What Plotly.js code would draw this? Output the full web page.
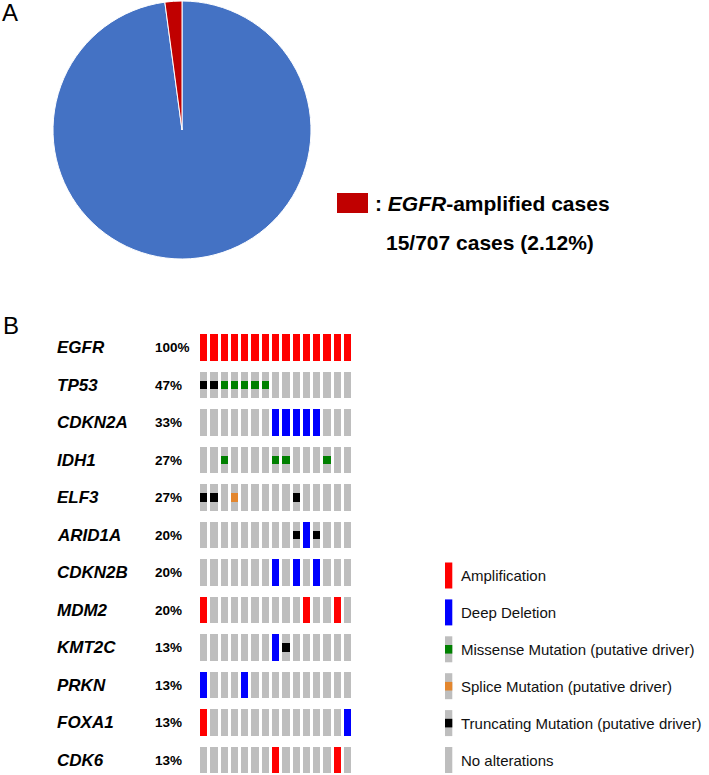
<!DOCTYPE html>
<html>
<head>
<meta charset="utf-8">
<script src="https://cdn.plot.ly/plotly-3.0.1.min.js"></script>
<style>html,body{margin:0;padding:0;background:#fff;}#chart{width:709px;height:775px;}</style>
</head>
<body>
<div id="chart"></div>
<script>
// ---------- data ----------
const pieLabels = ['Other', 'EGFR-amplified'];
const pieValues = [692, 15];            // 15 / 707 cases
const pieColors = ['#4472C4', '#C00000'];

const genes = ['EGFR','TP53','CDKN2A','IDH1','ELF3','ARID1A','CDKN2B','MDM2','KMT2C','PRKN','FOXA1','CDK6'];
const pctLabels = ['100%','47%','33%','27%','27%','20%','20%','20%','13%','13%','13%','13%'];
// A = amplification, D = deep deletion, M = missense, S = splice, T = truncating, . = none
const alterationRows = [
  'AAAAAAAAAAAAAAA',
  'TTMMMMM........',
  '.......DDDDD...',
  '..M....MM...M..',
  'TT.S.....T.....',
  '.........TDT...',
  '.......D.D.D...',
  'A.........A..A.',
  '.......DT......',
  'D...D..........',
  'A.............D',
  '.......A.....A.'
];
const legendLabels = ['Amplification','Deep Deletion','Missense Mutation (putative driver)','Splice Mutation (putative driver)','Truncating Mutation (putative driver)','No alterations'];
const legendCodes = ['A','D','M','S','T','.'];

// ---------- styles ----------
const W = 709, H = 775;
const px = v => v / W;
const py = v => 1 - v / H;
const colors = {A:'#FF0000', D:'#0000FF', M:'#008000', S:'#E3862E', T:'#000000', '.':'#BEBEBE'};
const fullH = 0.712, smallH = 0.232, barW = 0.70;

const traces = [];
traces.push({
  type:'pie', labels: pieLabels, values: pieValues, sort:false, direction:'clockwise',
  rotation:0, marker:{colors: pieColors, line:{color:'#ffffff', width:1}},
  textinfo:'none', hoverinfo:'skip', showlegend:false,
  domain:{x:[px(53), px(311)], y:[py(259), py(1)]}
});

function cellTrace(code, h){
  const xs=[], ys=[], bs=[];
  alterationRows.forEach((row, gi) => {
    for (let c = 0; c < row.length; c++) {
      if (code === '.' || row[c] === code) { xs.push(c); ys.push(h); bs.push(gi - h/2); }
    }
  });
  return {type:'bar', x:xs, y:ys, base:bs, width:barW, xaxis:'x', yaxis:'y',
    marker:{color:colors[code], line:{width:0}}, hoverinfo:'skip', showlegend:false};
}
traces.push(cellTrace('.', fullH));
traces.push(cellTrace('A', fullH));
traces.push(cellTrace('D', fullH));
traces.push(cellTrace('M', smallH));
traces.push(cellTrace('S', smallH));
traces.push(cellTrace('T', smallH));

const annotations = [];
const shapes = [];
annotations.push({xref:'paper', yref:'paper', x:px(0), y:py(13), xanchor:'left', yanchor:'middle',
  text:'A', showarrow:false, font:{family:'Liberation Sans, Arial', size:24, color:'#000'}});
annotations.push({xref:'paper', yref:'paper', x:px(1), y:py(325), xanchor:'left', yanchor:'middle',
  text:'B', showarrow:false, font:{family:'Liberation Sans, Arial', size:24, color:'#000'}});

// pie legend
shapes.push({type:'rect', xref:'paper', yref:'paper', x0:px(337), x1:px(368), y0:py(193), y1:py(213),
  fillcolor:pieColors[1], line:{width:0}});
annotations.push({xref:'paper', yref:'paper', x:px(373), y:py(204), xanchor:'left', yanchor:'middle',
  text:'<b>: <i>EGFR</i>-amplified cases</b>', showarrow:false,
  font:{family:'Liberation Sans, Arial', size:21, color:'#000'}});
annotations.push({xref:'paper', yref:'paper', x:px(384), y:py(242), xanchor:'left', yanchor:'middle',
  text:'<b>15/707 cases (2.12%)</b>', showarrow:false,
  font:{family:'Liberation Sans, Arial', size:21, color:'#000'}});

// gene labels
genes.forEach((g, i) => {
  annotations.push({xref:'paper', yref:'y', x:px(55), y:i, xanchor:'left', yanchor:'middle',
    text:'<b><i>'+g+'</i></b>', showarrow:false, font:{family:'Liberation Sans, Arial', size:17, color:'#000'}});
  annotations.push({xref:'paper', yref:'y', x:px(153), y:i, xanchor:'left', yanchor:'middle',
    text:'<b>'+pctLabels[i]+'</b>', showarrow:false, font:{family:'Liberation Sans, Arial', size:13.5, color:'#000'}});
});

// oncoprint legend
const lgTop = 562.5, lgPitch = 36.9, lgH = 26;
legendLabels.forEach((lab, i) => {
  const t = lgTop + i*lgPitch, code = legendCodes[i];
  const isMut = (code === 'M' || code === 'S' || code === 'T');
  shapes.push({type:'rect', xref:'paper', yref:'paper', x0:px(445), x1:px(452.3), y0:py(t), y1:py(t+lgH),
    fillcolor: isMut ? colors['.'] : colors[code], line:{width:0}});
  if (isMut) {
    const m = t + lgH/2;
    shapes.push({type:'rect', xref:'paper', yref:'paper', x0:px(445), x1:px(452.3), y0:py(m-4.3), y1:py(m+4.3),
      fillcolor: colors[code], line:{width:0}});
  }
  annotations.push({xref:'paper', yref:'paper', x:px(459), y:py(t+lgH/2), xanchor:'left', yanchor:'middle',
    text:lab, showarrow:false, font:{family:'Liberation Sans, Arial', size:15, color:'#111'}});
});

const layout = {
  width:W, height:H, margin:{l:0, r:0, t:0, b:0}, paper_bgcolor:'#fff', plot_bgcolor:'rgba(0,0,0,0)',
  showlegend:false, barmode:'overlay', bargap:0,
  xaxis:{domain:[px(198.5), px(352.8)], range:[-0.5, 14.5], visible:false, fixedrange:true},
  yaxis:{domain:[0, py(328.9)], range:[11.4, -0.5], visible:false, fixedrange:true},
  annotations: annotations, shapes: shapes
};
Plotly.newPlot('chart', traces, layout, {staticPlot:true, displayModeBar:false});
</script>
</body>
</html>
